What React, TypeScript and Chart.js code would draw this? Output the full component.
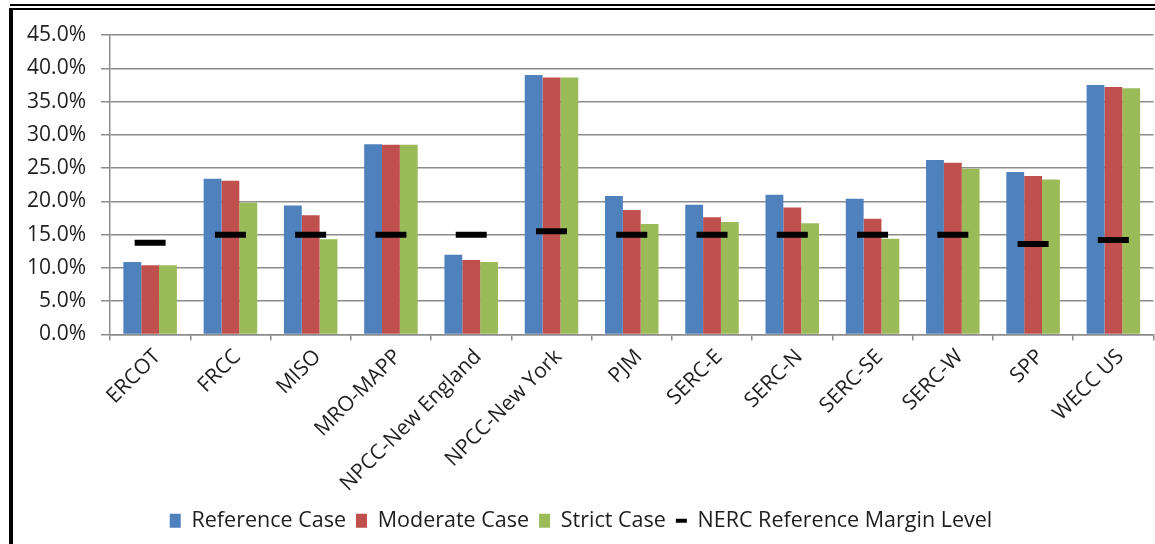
import React, { useEffect, useRef } from 'react';
import { Chart, registerables } from 'chart.js';

Chart.register(...registerables);

const categories = [
  'ERCOT', 'FRCC', 'MISO', 'MRO-MAPP', 'NPCC-New England', 'NPCC-New York',
  'PJM', 'SERC-E', 'SERC-N', 'SERC-SE', 'SERC-W', 'SPP', 'WECC US',
];
const referenceCase = [10.9, 23.4, 19.4, 28.6, 12.0, 39.0, 20.8, 19.5, 21.0, 20.4, 26.2, 24.4, 37.5];
const moderateCase = [10.4, 23.1, 17.9, 28.5, 11.2, 38.6, 18.7, 17.6, 19.1, 17.4, 25.8, 23.8, 37.2];
const strictCase = [10.4, 19.8, 14.3, 28.5, 10.9, 38.6, 16.6, 16.9, 16.7, 14.4, 24.9, 23.3, 37.0];
const nercMargin = [13.8, 15.0, 15.0, 15.0, 15.0, 15.5, 15.0, 15.0, 15.0, 15.0, 15.0, 13.6, 14.2];
const seriesNames = ['Reference Case', 'Moderate Case', 'Strict Case', 'NERC Reference Margin Level'];
const yMin = 0;
const yMax = 45;
const yStep = 5;

const FONT = "'Open Sans', sans-serif";
const GRID = '#8c8c8c';
const TEXT = '#1e1e1e';

export default function App() {
  const canvasRef = useRef<HTMLCanvasElement | null>(null);

  useEffect(() => {
    const canvas = canvasRef.current;
    if (!canvas) return;
    const chart = new Chart(canvas, {
      type: 'bar',
      data: {
        labels: categories,
        datasets: [
          {
            type: 'bar',
            label: seriesNames[0],
            data: referenceCase,
            backgroundColor: '#4F81BD',
            borderWidth: 0,
            order: 1,
          },
          {
            type: 'bar',
            label: seriesNames[1],
            data: moderateCase,
            backgroundColor: '#C0504D',
            borderWidth: 0,
            order: 1,
          },
          {
            type: 'bar',
            label: seriesNames[2],
            data: strictCase,
            backgroundColor: '#9BBB59',
            borderWidth: 0,
            order: 1,
          },
          {
            type: 'line',
            label: seriesNames[3],
            data: nercMargin,
            showLine: false,
            pointStyle: 'line',
            pointRadius: 15.5,
            pointHoverRadius: 15.5,
            pointBorderWidth: 6,
            pointBorderColor: '#000000',
            pointBackgroundColor: '#000000',
            borderColor: '#000000',
            backgroundColor: '#000000',
            order: 0,
          } as any,
        ],
      },
      options: {
        responsive: false,
        maintainAspectRatio: false,
        animation: false,
        layout: { padding: { top: 35, right: 13, left: 0, bottom: 2.5 } },
        datasets: {
          bar: { categoryPercentage: 0.667, barPercentage: 1.0 },
        } as any,
        scales: {
          x: {
            offset: true,
            grid: {
              display: true,
              drawOnChartArea: false,
              drawTicks: true,
              tickLength: 6,
              color: GRID,
              lineWidth: 1.5,
            },
            border: { display: true, color: GRID, width: 1.5 },
            ticks: {
              minRotation: 45,
              maxRotation: 45,
              autoSkip: false,
              padding: 4,
              labelOffset: 7,
              color: TEXT,
              font: { family: FONT, size: 21 },
            },
            afterFit: (s: any) => {
              s.height = 165.5;
            },
          },
          y: {
            min: yMin,
            max: yMax,
            grid: {
              color: GRID,
              lineWidth: 1.5,
              drawTicks: true,
              tickLength: 9,
            },
            border: { display: true, color: GRID, width: 1.5 },
            ticks: {
              stepSize: yStep,
              padding: 15,
              color: TEXT,
              font: { family: FONT, size: 21 },
              callback: (v: any) => Number(v).toFixed(1) + '%',
            },
            afterFit: (s: any) => {
              s.width = 110;
            },
          },
        },
        plugins: {
          title: { display: false },
          tooltip: { enabled: false },
          legend: {
            display: true,
            position: 'bottom',
            labels: {
              usePointStyle: true,
              pointStyleWidth: 11,
              boxWidth: 11,
              boxHeight: 14,
              padding: 10,
              color: TEXT,
              font: { family: FONT, size: 21.5 },
              sort: (a: any, b: any) => a.datasetIndex - b.datasetIndex,
              generateLabels: (c: any) => {
                const items = Chart.defaults.plugins.legend.labels.generateLabels(c);
                items.forEach((it: any) => {
                  if (it.datasetIndex === 3) {
                    it.pointStyle = 'line';
                    it.lineWidth = 4;
                    it.strokeStyle = '#000000';
                    it.fillStyle = '#000000';
                  } else {
                    it.pointStyle = 'rect';
                    it.lineWidth = 0;
                  }
                });
                return items;
              },
            },
          },
        },
      },
    });
    return () => chart.destroy();
  }, []);

  return (
    <div
      style={{
        position: 'fixed',
        left: 0,
        top: 0,
        width: 1155,
        height: 544,
        overflow: 'hidden',
        background: '#ffffff',
      }}
    >
      <canvas
        ref={canvasRef}
        width={1175}
        height={544}
        style={{ position: 'absolute', left: 0, top: 0, width: 1175, height: 544 }}
      />
      <div style={{ position: 'absolute', left: 10, top: 4, width: 1145, height: 2, background: '#000' }} />
      <div style={{ position: 'absolute', left: 10, top: 8, width: 1145, height: 2, background: '#000' }} />
      <div style={{ position: 'absolute', left: 9, top: 8, width: 4, height: 536, background: '#000' }} />
    </div>
  );
}
